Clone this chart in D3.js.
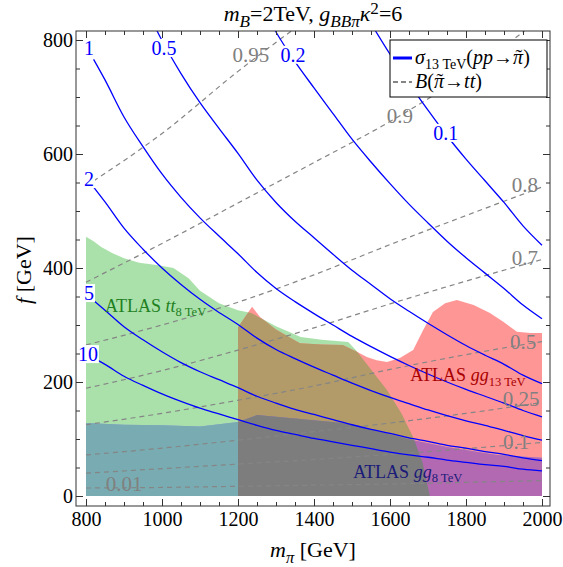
<!DOCTYPE html>
<html>
<head>
<meta charset="utf-8">
<script src="https://cdn.jsdelivr.net/npm/d3@7"></script>
<style>
  body { margin: 0; background: #fff; }
  text { font-family: "Liberation Serif", "DejaVu Serif", serif; }
</style>
</head>
<body>
<div id="area"></div>
<script>
// sigma_13TeV(pp -> pi) contours, f [GeV] read along a common m grid
const mGrid = [820,850,900,950,1000,1050,1100,1150,1200,1250,1300,1350,1400,1450,1500,1550,1600,1650,1700,1750,1800,1850,1900,1950,2000]
const sigma01 = [null,null,null,null,null,null,null,null,null,null,null,null,null,null,885,829,775,724,677,632,591,553,515,474,440]
const sigma02 = [null,null,null,null,null,null,null,null,null,877,814,762,716,671,626,586,548,512,479,447,418,391,364,335,311]
const sigma05 = [null,null,null,867,799,741,690,645,601,554,515,482,453,424,396,371,346,324,303,283,264,247,231,212,197]
const sigma1  = [766,730,665,613,565,524,488,456,425,392,364,341,320,300,280,262,245,229,214,200,187,175,163,150,139]
const sigma2  = [542,516,470,433,400,371,345,322,301,277,257,241,226,212,198,185,173,162,151,141,132,124,115,106,98]
const sigma5  = [343,326,297,274,253,234,218,204,190,175,163,152,143,134,125,117,110,102,96,89,84,78,73,67,62]
const sigma10 = [242,231,210,194,179,166,154,144,134,124,115,108,101,95,89,83,77,72,68,63,59,55,52,47,44]

// B(pi -> tt) contours
const bGrid = [800,1000,1200,1400,1600,1800,2000]
const b095 = [544,636,745,845,null,null,null]
const b09  = [375,443,514,585,657,740,840]
const b08  = [265,300,340,388,441,492,542]
const b07  = [189,220,256,295,337,377,415]
const b05  = [125,145,168,193,222,248,271]
const b025 = [72,84,98,113,128,145,164]
const b01  = [40,48,56,64,73,83,94]
const b001 = [14,15,17,19,21,24,27]

// excluded regions (boundary points m, f)
const ttM = [800,800,820,840,870,900,940,990,1030,1070,1100,1150,1200,1235,1300,1365,1420,1490,1510,1550,1592,1630,1661,1685,1705]
const ttF = [0,455,447,437,426,417,409,405,400,382,360,338,326,321,298,279,274,270,256,222,186,145,103,60,0]
const gg13M = [1200,1200,1237,1258,1300,1363,1420,1476,1513,1539,1565,1592,1626,1661,1687,1713,1745,1776,1820,1863,1900,1934,1970,2000,2000]
const gg13F = [0,296,332,314,292,268,266,265,253,244,238,235,242,256,291,323,338,344,335,321,305,288,286,286,0]
const gg8M = [800,800,900,1000,1100,1200,1250,1350,1476,1560,1661,1750,1882,2000,2000]
const gg8F = [0,128,125,124,122,130,142,136,128,115,98,86,72,67,0]

const xTicks = [800,1000,1200,1400,1600,1800,2000]
const yTicks = [0,200,400,600,800]

const sigmaSeries = [
  {name:'1', f:sigma1, at:[808,786]},
  {name:'0.5', f:sigma05, at:[1005,786]},
  {name:'0.2', f:sigma02, at:[1345,774]},
  {name:'0.1', f:sigma01, at:[1747,637]},
  {name:'2', f:sigma2, at:[808,556]},
  {name:'5', f:sigma5, at:[808,356]},
  {name:'10', f:sigma10, at:[805,249]}
]
const bSeries = [
  {name:'0.95', f:b095, at:[1234,774]},
  {name:'0.9', f:b09, at:[1626,668]},
  {name:'0.8', f:b08, at:[1955,547]},
  {name:'0.7', f:b07, at:[1955,419]},
  {name:'0.5', f:b05, at:[1950,270]},
  {name:'0.25', f:b025, at:[1945,170]},
  {name:'0.1', f:b01, at:[1932,96]},
  {name:'0.01', f:b001, at:[900,21]}
]

const svg = d3.select('#area')
  .append('svg')
  .attr('width', 563)
  .attr('height', 567)

const frame = {l:76, r:550, t:31, b:506}
const x = d3.scaleLinear().domain([800,2000]).range([86,542])
const y = d3.scaleLinear().domain([0,800]).range([496,40])

const defs = svg.append('defs')
defs.append('clipPath').attr('id','plotClip')
  .append('rect')
  .attr('x',frame.l).attr('y',frame.t)
  .attr('width',frame.r-frame.l).attr('height',frame.b-frame.t)

const area = (ms, fs) => d3.line().x(d => x(d[0])).y(d => y(d[1]))(ms.map((m,i) => [m, fs[i]])) + 'Z'
const ttPath = area(ttM, ttF)
const gg13Path = area(gg13M, gg13F)
const gg8Path = area(gg8M, gg8F)

defs.append('clipPath').attr('id','ttClip').append('path').attr('d', ttPath)
defs.append('clipPath').attr('id','gg13Clip').append('path').attr('d', gg13Path)

const plot = svg.append('g').attr('clip-path','url(#plotClip)')

// regions and their overlaps
plot.append('path').attr('d', ttPath).attr('fill','#aae1aa')
plot.append('path').attr('d', gg13Path).attr('fill','#ff9696')
plot.append('path').attr('d', gg8Path).attr('fill','#9a9ae0')
plot.append('g').attr('clip-path','url(#ttClip)')
  .append('path').attr('d', gg13Path).attr('fill','#b29b69')
plot.append('g').attr('clip-path','url(#ttClip)')
  .append('path').attr('d', gg8Path).attr('fill','#78acb2')
plot.append('g').attr('clip-path','url(#gg13Clip)')
  .append('path').attr('d', gg8Path).attr('fill','#b269b2')
plot.append('g').attr('clip-path','url(#ttClip)')
  .append('g').attr('clip-path','url(#gg13Clip)')
  .append('path').attr('d', gg8Path).attr('fill','#7d7d7d')

// B contours (dashed gray)
const bLine = d3.line()
  .defined(d => d[1] != null)
  .x(d => x(d[0])).y(d => y(d[1]))
  .curve(d3.curveMonotoneX)
plot.selectAll('.bline')
  .data(bSeries)
  .enter()
  .append('path')
  .attr('class','bline')
  .attr('d', s => bLine(bGrid.map((m,i) => [m, s.f[i]])))
  .attr('fill','none')
  .attr('stroke','#858585')
  .attr('stroke-width',1.2)
  .attr('stroke-dasharray','5,4')

// sigma contours (blue)
const sLine = d3.line()
  .defined(d => d[1] != null)
  .x(d => x(d[0])).y(d => y(d[1]))
  .curve(d3.curveMonotoneX)
plot.selectAll('.sline')
  .data(sigmaSeries)
  .enter()
  .append('path')
  .attr('class','sline')
  .attr('d', s => sLine(mGrid.map((m,i) => [m, s.f[i]])))
  .attr('fill','none')
  .attr('stroke','#0000ff')
  .attr('stroke-width',1.3)

// contour labels
bSeries.forEach(s => {
  plot.append('text')
    .attr('x', x(s.at[0])).attr('y', y(s.at[1]))
    .attr('dy','0.35em')
    .attr('text-anchor','middle')
    .attr('font-size',21)
    .attr('fill','#808080')
    .text(s.name)
})
sigmaSeries.forEach(s => {
  const t = plot.append('text')
    .attr('x', x(s.at[0])).attr('y', y(s.at[1]))
    .attr('dy','0.35em')
    .attr('text-anchor','middle')
    .attr('font-size',20)
    .attr('fill','#0000ff')
    .text(s.name)
  const bb = t.node().getBBox()
  plot.insert('rect', () => t.node())
    .attr('x', bb.x - 1).attr('y', bb.y + 2)
    .attr('width', bb.width + 2).attr('height', bb.height - 4)
    .attr('fill','#fff')
})

// rich text helper (italics, sub/superscripts, small shifts)
function rich(sel, parts, size, subScale = 0.7, supShift = 0.4) {
  let off = 0
  parts.forEach(p => {
    const target = p.sub ? size*0.25 : p.sup ? -size*supShift : 0
    const ts = sel.append('tspan')
      .attr('dy', target - off)
      .attr('font-size', (p.sub || p.sup) ? size*subScale : size)
      .text(p.t)
    if (p.i) ts.attr('font-style','italic')
    if (p.dx) ts.attr('dx', p.dx)
    off = target
  })
}

// region labels
rich(plot.append('text').attr('x', x(850)).attr('y', y(323)).attr('fill','#1f801f'),
  [{t:'ATLAS '},{t:'tt',i:1},{t:'8 TeV',sub:1}], 18)
rich(plot.append('text').attr('x', x(1653)).attr('y', y(201)).attr('fill','#a80000'),
  [{t:'ATLAS '},{t:'gg',i:1},{t:'13 TeV',sub:1}], 18)
rich(plot.append('text').attr('x', x(1503)).attr('y', y(32)).attr('fill','#1a1a78'),
  [{t:'ATLAS '},{t:'gg',i:1},{t:'8 TeV',sub:1}], 18)

// frame ticks
const inner = (axis, g, size, labels) => {
  g.call(axis.tickSize(-size).tickFormat(labels ? d3.format('d') : ''))
  g.select('.domain').remove()
  g.selectAll('line').attr('stroke','#333')
}
const minorX = d3.range(800, 2001, 50).filter(v => v % 200 !== 0)
const minorY = d3.range(0, 801, 50).filter(v => v % 200 !== 0)

const gB = svg.append('g').attr('transform',`translate(0,${frame.b})`)
inner(d3.axisBottom(x).tickValues(xTicks).tickPadding(6), gB, 7, true)
inner(d3.axisBottom(x).tickValues(minorX), svg.append('g').attr('transform',`translate(0,${frame.b})`), 4, false)
inner(d3.axisTop(x).tickValues(xTicks), svg.append('g').attr('transform',`translate(0,${frame.t})`), 7, false)
inner(d3.axisTop(x).tickValues(minorX), svg.append('g').attr('transform',`translate(0,${frame.t})`), 4, false)
const gL = svg.append('g').attr('transform',`translate(${frame.l},0)`)
inner(d3.axisLeft(y).tickValues(yTicks).tickPadding(3), gL, 7, true)
inner(d3.axisLeft(y).tickValues(minorY), svg.append('g').attr('transform',`translate(${frame.l},0)`), 4, false)
inner(d3.axisRight(y).tickValues(yTicks), svg.append('g').attr('transform',`translate(${frame.r},0)`), 7, false)
inner(d3.axisRight(y).tickValues(minorY), svg.append('g').attr('transform',`translate(${frame.r},0)`), 4, false)
svg.selectAll('.tick text')
  .attr('font-size',20)
  .attr('fill','#000')

svg.append('rect')
  .attr('x',frame.l).attr('y',frame.t)
  .attr('width',frame.r-frame.l).attr('height',frame.b-frame.t)
  .attr('fill','none')
  .attr('stroke','#333')
  .attr('stroke-width',1)

// legend
const lg = svg.append('g')
lg.append('rect')
  .attr('x',390).attr('y',40).attr('width',157).attr('height',57)
  .attr('fill','#fff').attr('stroke','#000').attr('stroke-width',1)
lg.append('line').attr('x1',393).attr('x2',412).attr('y1',58).attr('y2',58)
  .attr('stroke','#0000ff').attr('stroke-width',3)
lg.append('line').attr('x1',393).attr('x2',412).attr('y1',82).attr('y2',82)
  .attr('stroke','#858585').attr('stroke-width',2).attr('stroke-dasharray','5,3')
rich(lg.append('text').attr('x',415).attr('y',64),
  [{t:'σ',i:1},{t:'13 TeV',sub:1},{t:'('},{t:'pp',i:1},{t:'→'},{t:'π',i:1},{t:'˜',dx:-7.5},{t:')',dx:1}], 20)
rich(lg.append('text').attr('x',415).attr('y',88),
  [{t:'B',i:1},{t:'('},{t:'π',i:1},{t:'˜',dx:-7.5},{t:'→',dx:1},{t:'tt',i:1},{t:')'}], 20)

// title and axis labels
rich(svg.append('text').attr('x',313).attr('y',21).attr('text-anchor','middle'),
  [{t:'m',i:1},{t:'B',i:1,sub:1},{t:'=2TeV, '},{t:'g',i:1},{t:'BBπ',i:1,sub:1},{t:'κ',i:1},{t:'2',sup:1},{t:'=6'}], 22, 0.78, 0.3)
rich(svg.append('text').attr('x',313).attr('y',557).attr('text-anchor','middle'),
  [{t:'m',i:1},{t:'π',i:1,sub:1},{t:' [GeV]'}], 22, 0.75)
rich(svg.append('text').attr('transform','translate(31,270) rotate(-90)').attr('text-anchor','middle'),
  [{t:'f',i:1},{t:' [GeV]'}], 22)
</script>
</body>
</html>
